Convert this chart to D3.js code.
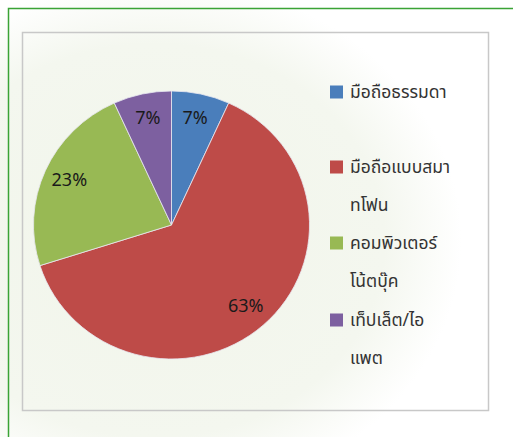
<!DOCTYPE html>
<html>
<head>
<meta charset="utf-8">
<script src="https://cdn.jsdelivr.net/npm/d3@7"></script>
<style>
  html, body { margin: 0; padding: 0; background: #ffffff; }
  svg { display: block; }
  text { font-family: Tahoma, "Noto Sans Thai", "Noto Sans", "DejaVu Sans", sans-serif; }
</style>
</head>
<body>
<svg id="chart" width="513" height="437"></svg>
<script>
const categories = ["มือถือธรรมดา", "มือถือแบบสมาทโฟน", "คอมพิวเตอร์โน้ตบุ๊ค", "เท็ปเล็ต/ไอแพต"];
const legendLines = [["มือถือธรรมดา"], ["มือถือแบบสมา", "ทโฟน"], ["คอมพิวเตอร์", "โน้ตบุ๊ค"], ["เท็ปเล็ต/ไอ", "แพต"]];
const values = [6.8, 63.3, 23.1, 6.8];
const colors = ["#4a7ebb", "#be4b48", "#98b954", "#7d60a0"];

const svg = d3.select("#chart");
const W = 513, H = 437;

// faint background tint (watermark area)
const defs = svg.append("defs");
const grad = defs.append("radialGradient").attr("id", "wm")
  .attr("cx", "0.3").attr("cy", "0.55").attr("r", "0.6");
grad.append("stop").attr("offset", "0").attr("stop-color", "#f1f5ea");
grad.append("stop").attr("offset", "0.75").attr("stop-color", "#f4f7ef");
grad.append("stop").attr("offset", "1").attr("stop-color", "#ffffff");
svg.append("rect").attr("width", W).attr("height", H).attr("fill", "url(#wm)");

// outer green frame
svg.append("rect").attr("x", 8.5).attr("y", 8.5).attr("width", 520).attr("height", 440)
  .attr("fill", "none").attr("stroke", "#3aa335").attr("stroke-width", 1.5);

// plot area gray frame
svg.append("rect").attr("x", 22.5).attr("y", 32.5).attr("width", 466).attr("height", 378)
  .attr("fill", "none").attr("stroke", "#c8c8c8").attr("stroke-width", 1.5);

const cx = 171.5, cy = 225, r = 134, sx = 1.03;
const pie = d3.pie().sort(null).value(d => d)(values);
const arc = d3.arc().innerRadius(0).outerRadius(r);
const labelArc = d3.arc().innerRadius(r * 0.81).outerRadius(r * 0.81);

const g = svg.append("g").attr("transform", `translate(${cx},${cy})`);
g.append("g").attr("transform", `scale(${sx},1)`)
  .selectAll("path").data(pie).join("path")
  .attr("d", arc)
  .attr("fill", (d, i) => colors[i])
  .attr("stroke", "#e8e8f0").attr("stroke-width", 0.8);

const total = d3.sum(values);
g.selectAll("text.lbl").data(pie).join("text")
  .attr("class", "lbl")
  .attr("transform", d => { const c = labelArc.centroid(d); return `translate(${c[0] * sx},${c[1]})`; })
  .attr("text-anchor", "middle").attr("dominant-baseline", "central")
  .attr("font-family", "'Liberation Sans', Arial, sans-serif")
  .attr("font-size", 18).attr("fill", "#1a1a1a")
  .text(d => Math.round(d.value / total * 100) + "%");

// legend
const legendY = [92, 167, 243, 320];
const lg = svg.append("g");
legendLines.forEach((lines, i) => {
  lg.append("rect").attr("x", 330).attr("y", legendY[i] - 6.5).attr("width", 13).attr("height", 13)
    .attr("fill", colors[i]);
  lines.forEach((t, j) => {
    lg.append("text").attr("x", 350).attr("y", legendY[i] + j * 38)
      .attr("dominant-baseline", "central").attr("font-size", 17.5).attr("fill", "#333")
      .text(t);
  });
});
</script>
</body>
</html>
